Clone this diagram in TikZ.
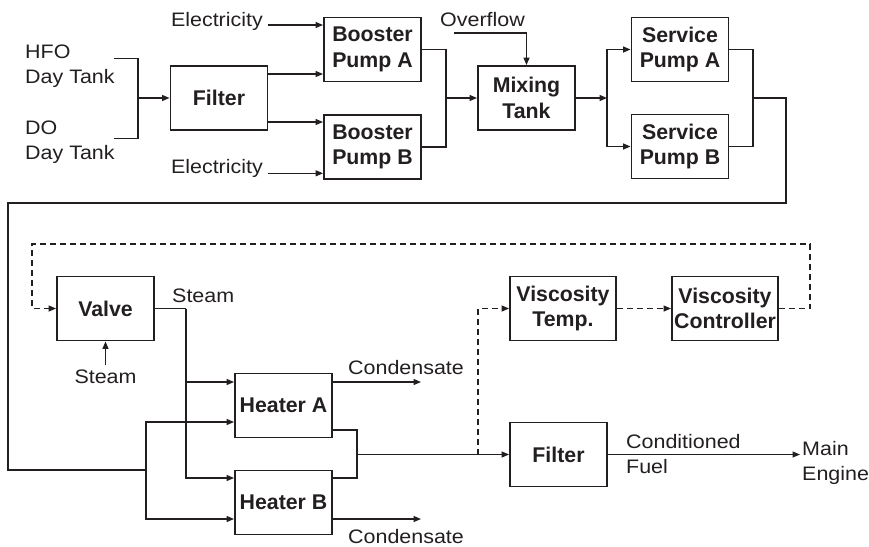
\documentclass[tikz,border=0pt]{standalone}
\usepackage{fontspec}
\setmainfont{Liberation Sans}[FakeStretch=1.1]
\newfontfamily\boxfont{Liberation Sans}
\usetikzlibrary{arrows.meta}
\definecolor{ink}{RGB}{35,31,32}
\begin{document}
\begin{tikzpicture}[x=1pt,y=-1pt,
  box/.style={draw=ink, line width=1.9pt, minimum width=97pt, minimum height=64pt, inner sep=0pt, align=center, font=\boxfont\bfseries\fontsize{21.3}{25.5}\selectfont, text=ink},
  lbl/.style={inner sep=0pt, align=left, font=\fontsize{19.5}{25}\selectfont, text=ink},
  conn/.style={draw=ink, line width=1.3pt},
  arr/.style={conn, -{Triangle[length=7.5pt,width=6pt]}},
  dsh/.style={dash pattern=on 6pt off 4pt}]
\useasboundingbox (0,0) rectangle (869,546);

% boxes
\node[box] (f1) at (219,98) {Filter};
\node[box] (bpa) at (372.5,49.5) {Booster\\Pump A};
\node[box] (bpb) at (372.5,147) {Booster\\Pump B};
\node[box] (mix) at (526.5,98) {Mixing\\Tank};
\node[box] (spa) at (680,49.5) {Service\\Pump A};
\node[box] (spb) at (680,146.5) {Service\\Pump B};
\node[box] (valve) at (105.5,308.5) {Valve};
\node[box] (ha) at (283.5,405.5) {Heater A};
\node[box] (hb) at (283.5,502.5) {Heater B};
\node[box, minimum width=106pt] (vt) at (563,308.5) {Viscosity\\Temp.};
\node[box, minimum width=106pt] (vc) at (725,308.5) {Viscosity\\Controller};
\node[box] (f2) at (558.5,454.5) {Filter};

% labels
\node[lbl, anchor=north west] (hfo) at (25,45) {HFO\\Day Tank};
\node[lbl, anchor=north west] (do) at (25,120.5) {DO\\Day Tank};
\node[lbl, anchor=base east] (el1) at (263,26.5) {Electricity};
\node[lbl, anchor=base east] (el2) at (263,173.3) {Electricity};
\node[lbl, anchor=base west] (ovf) at (440,26.7) {Overflow};
\node[lbl, anchor=base west] (st1) at (172,302.7) {Steam};
\node[lbl, anchor=base] (st2) at (105.5,383.3) {Steam};
\node[lbl, anchor=base west] (con1) at (348,374) {Condensate};
\node[lbl, anchor=base west] (con2) at (348,543) {Condensate};
\node[lbl, anchor=north west] (cf) at (626,434.3) {Conditioned\\Fuel};
\node[lbl, anchor=north west] (me) at (802,441) {Main\\Engine};

% coordinates
\coordinate (hfoEnd) at (114,58.3);
\coordinate (doEnd) at (114,138.3);
\coordinate (j1) at (138,98);
\coordinate (j2) at (446,98);
\coordinate (ov) at (454,33);
\coordinate (j3) at (607,98);
\coordinate (j4) at (753,98);
\coordinate (r2) at (786,203);
\coordinate (r4) at (8,470);
\coordinate (j5) at (146,470);
\coordinate (sv) at (186,308.5);
\coordinate (c1) at (421,382);
\coordinate (c2) at (421,519);
\coordinate (j6) at (357,454.5);
\coordinate (j7) at (478,454.5);
\coordinate (d1) at (810,244);
\coordinate (d2) at (32,244);

% top row
\draw[conn] (hfoEnd) -| (j1) |- (doEnd);
\draw[arr] (j1) -- (f1.west);
\draw[arr] (f1.east |- 0,74) -- (bpa.west |- 0,74);
\draw[arr] (f1.east |- 0,122) -- (bpb.west |- 0,122);
\draw[arr] ([xshift=5pt,yshift=1.5pt]el1.base east) -- (bpa.west |- 0,25);
\draw[arr] ([xshift=5pt]el2.base east) -- (bpb.west |- 0,173.3);
\draw[conn] (bpa.east) -| (j2) |- (bpb.east);
\draw[arr] (j2) -- (mix.west);
\draw[arr] (ov) -| (mix.north);
\draw[arr] (mix.east) -- (j3);
\draw[arr] (j3) |- (spa.west);
\draw[arr] (j3) |- (spb.west);
\draw[conn] (spa.east) -| (j4) |- (spb.east);
\draw[conn] (j4) -| (r2) -| (r4) -- (j5);
\draw[arr] (j5) |- ([yshift=-16.5pt]ha.west);
\draw[arr] (j5) |- ([yshift=-16.5pt]hb.west);

% steam
\draw[conn] (valve.east) -- (sv);
\draw[arr] (sv) |- ([yshift=23.5pt]ha.west);
\draw[arr] (sv) |- ([yshift=24.5pt]hb.west);
\draw[arr] ([yshift=4pt]st2.north) -- (valve.south);

% condensate
\draw[arr] (ha.east |- c1) -- (c1);
\draw[arr] (hb.east |- c2) -- (c2);

% heater outputs
\draw[conn] ([yshift=-24.5pt]ha.east) -| (j6) |- ([yshift=24.5pt]hb.east);
\draw[arr] (j6) -- (f2.west);

% control loop
\draw[arr,dsh] (j7) |- (vt.west);
\draw[arr,dsh] (vt.east) -- (vc.west);
\draw[arr,dsh] (vc.east) -| (d1) -| (d2) |- (valve.west);

% output
\draw[arr] (f2.east) -- ([xshift=-2pt]me.west |- f2.east);
\end{tikzpicture}
\end{document}
